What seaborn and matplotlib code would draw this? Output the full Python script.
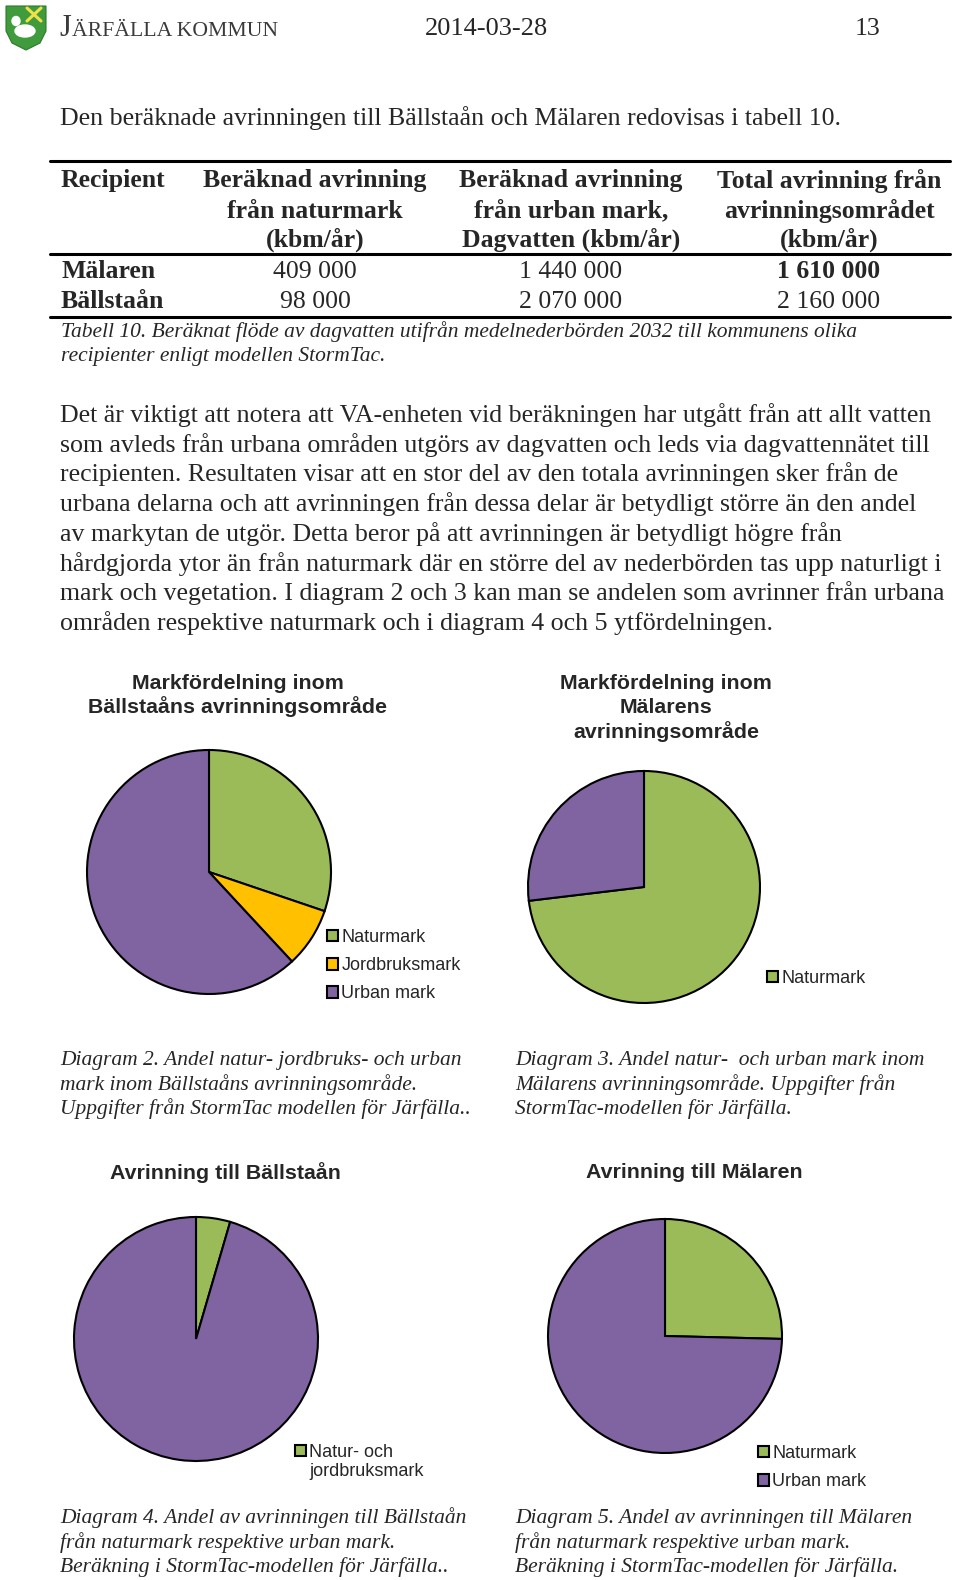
import numpy as np
import matplotlib
matplotlib.use("Agg")
import matplotlib.pyplot as plt
import seaborn as sns
from matplotlib.patches import Polygon, Ellipse, Rectangle
from matplotlib.lines import Line2D

sns.set_theme(style="white")
plt.rcParams['font.family'] = ['Liberation Serif', 'DejaVu Serif']

W, H = 960, 1580

# ---- data ----
land_balls_labels = ["Naturmark", "Jordbruksmark", "Urban mark"]
land_balls_share = [30.2, 7.9, 61.9]

land_malar_labels = ["Naturmark", "Urban mark"]
land_malar_share = [73.1, 26.9]

runoff_balls_labels = ["Natur- och", "jordbruksmark"]
runoff_balls = [98000, 2070000]

runoff_malar_labels = ["Naturmark", "Urban mark"]
runoff_malar_share = [25.4, 74.6]

table_recipients = ["Mälaren", "Bällstaån"]
table_natur = ["409 000", "98 000"]
table_urban = ["1 440 000", "2 070 000"]
table_total = ["1 610 000", "2 160 000"]

pal = sns.color_palette(["#9BBB59", "#FFC000", "#8064A2"])
green, yellow, purple = pal

SANS = ['Liberation Sans', 'DejaVu Sans']
SERIF = ['Liberation Serif', 'DejaVu Serif']

BODY = 18.6
CAP = 15.5

fig = plt.figure(figsize=(W / 100, H / 100), dpi=100)
fig.patch.set_facecolor("white")


def fx(x):
    return x / W


def fy(y):
    return 1 - y / H


def txt(x, y, s, size=BODY, ha="left", va="center", **kw):
    kw.setdefault("family", SERIF)
    fig.text(fx(x), fy(y), s, fontsize=size, ha=ha, va=va, **kw)


def hline(x0, x1, y, lw=2.2):
    fig.add_artist(Line2D([fx(x0), fx(x1)], [fy(y), fy(y)], color="black", lw=lw,
                          transform=fig.transFigure))


# ---- header ----
logo = fig.add_axes([fx(5), fy(51), 42 / W, 46 / H])
logo.set_xlim(0, 42)
logo.set_ylim(0, 46)
logo.axis("off")
logo.add_patch(Polygon([[1, 45], [41, 45], [41, 20], [35, 8], [21, 1], [7, 8], [1, 20]],
                       closed=True, facecolor="#3f9b3c", edgecolor="#2d7a2b", lw=0.8))
logo.add_patch(Ellipse((20, 20), 20, 12, facecolor="white"))
logo.add_patch(Ellipse((11, 30), 8, 9, facecolor="white"))
logo.plot([22, 36], [30, 43], color="#f2e24a", lw=2.2)
logo.plot([22, 36], [43, 30], color="#f2e24a", lw=2.2)

txt(59, 36, "J", size=22, va="baseline", color="#3a3a3a")
txt(72, 36, "ÄRFÄLLA KOMMUN", size=15.7, va="baseline", color="#3a3a3a")
txt(486, 29, "2014-03-28", size=19, ha="center")
txt(868, 29, "13", size=18.5, ha="center")

# ---- intro + table ----
txt(60, 118, "Den beräknade avrinningen till Bällstaån och Mälaren redovisas i tabell 10.")

hline(50, 950, 161)
hline(50, 950, 254)
hline(50, 950, 317)

col_x = [315, 571, 829]
headers = [["Beräknad avrinning", "från naturmark", "(kbm/år)"],
           ["Beräknad avrinning", "från urban mark,", "Dagvatten (kbm/år)"],
           ["Total avrinning från", "avrinningsområdet", "(kbm/år)"]]
head_y = [181, 211, 240]
txt(61, head_y[0], "Recipient", size=18.5, weight="bold")
for cx, lines in zip(col_x, headers):
    for yy, line in zip(head_y, lines):
        txt(cx, yy, line, size=18.5, ha="center", weight="bold")

row_y = [272, 302]
for i, rec in enumerate(table_recipients):
    txt(61, row_y[i], rec, size=18.5, weight="bold")
    txt(col_x[0], row_y[i], table_natur[i], size=18.5, ha="center")
    txt(col_x[1], row_y[i], table_urban[i], size=18.5, ha="center")
    txt(col_x[2], row_y[i], table_total[i], size=18.5, ha="center",
        weight="bold" if i == 0 else "normal")

txt(61, 332, "Tabell 10. Beräknat flöde av dagvatten utifrån medelnederbörden 2032 till kommunens olika",
    size=CAP, style="italic")
txt(61, 357, "recipienter enligt modellen StormTac.", size=CAP, style="italic")

# ---- body text ----
body = [
    "Det är viktigt att notera att VA-enheten vid beräkningen har utgått från att allt vatten",
    "som avleds från urbana områden utgörs av dagvatten och leds via dagvattennätet till",
    "recipienten. Resultaten visar att en stor del av den totala avrinningen sker från de",
    "urbana delarna och att avrinningen från dessa delar är betydligt större än den andel",
    "av markytan de utgör. Detta beror på att avrinningen är betydligt högre från",
    "hårdgjorda ytor än från naturmark där en större del av nederbörden tas upp naturligt i",
    "mark och vegetation. I diagram 2 och 3 kan man se andelen som avrinner från urbana",
    "områden respektive naturmark och i diagram 4 och 5 ytfördelningen.",
]
body_y = [415, 445, 474, 504, 534, 564, 593, 623]
for yy, line in zip(body_y, body):
    txt(60, yy, line)


# ---- pies ----
def pie_panel(cx, cy, r, values, colors, leg_labels, leg_x, leg_y, spacing=0.62, n_handles=None):
    side = 2.5 * r
    ax = fig.add_axes([fx(cx - side / 2), fy(cy + side / 2), side / W, side / H])
    wedges, _ = ax.pie(values, colors=colors, startangle=90, counterclock=False,
                       wedgeprops=dict(edgecolor="black", linewidth=1.5))
    ax.set_xlim(-1.25, 1.25)
    ax.set_ylim(-1.25, 1.25)
    ax.set_aspect("equal")
    n = len(leg_labels) if n_handles is None else n_handles
    handles = list(wedges[:n])
    # a wrapped label: continuation line gets an invisible handle
    while len(handles) < len(leg_labels):
        handles.append(Rectangle((0, 0), 1, 1, visible=False))
    ax.legend(handles, leg_labels, loc="upper left",
              bbox_to_anchor=(fx(leg_x), fy(leg_y)), bbox_transform=fig.transFigure,
              frameon=False, prop=dict(family=SANS, size=13),
              handlelength=0.6, handleheight=0.6, handletextpad=0.2,
              labelspacing=spacing, borderpad=0, borderaxespad=0)
    return ax


def title(x, ys, lines):
    for yy, line in zip(ys, lines):
        fig.text(fx(x), fy(yy), line, ha="center", va="center", fontsize=15.4,
                 weight="bold", family=SANS)


title(238, [683, 707], ["Markfördelning inom", "Bällstaåns avrinningsområde"])
pie_panel(209, 872, 122, land_balls_share, [green, yellow, purple],
          land_balls_labels, 327, 929)

title(666, [683, 708, 732], ["Markfördelning inom", "Mälarens", "avrinningsområde"])
pie_panel(644, 887, 116, land_malar_share, [green, purple],
          land_malar_labels[:1], 767, 970)

title(225, [1173], ["Avrinning till Bällstaån"])
pie_panel(196, 1339, 122, runoff_balls, [green, purple],
          runoff_balls_labels, 295, 1444, spacing=0.12, n_handles=1)

title(694, [1172], ["Avrinning till Mälaren"])
pie_panel(665, 1336, 117, runoff_malar_share, [green, purple],
          runoff_malar_labels, 758, 1445)

# ---- diagram captions ----
caps = [
    (60, [1060, 1085, 1109], ["Diagram 2. Andel natur- jordbruks- och urban",
                              "mark inom Bällstaåns avrinningsområde.",
                              "Uppgifter från StormTac modellen för Järfälla.."]),
    (515, [1060, 1085, 1109], ["Diagram 3. Andel natur-  och urban mark inom",
                               "Mälarens avrinningsområde. Uppgifter från",
                               "StormTac-modellen för Järfälla."]),
    (60, [1518, 1543, 1567], ["Diagram 4. Andel av avrinningen till Bällstaån",
                              "från naturmark respektive urban mark.",
                              "Beräkning i StormTac-modellen för Järfälla.."]),
    (515, [1518, 1543, 1567], ["Diagram 5. Andel av avrinningen till Mälaren",
                               "från naturmark respektive urban mark.",
                               "Beräkning i StormTac-modellen för Järfälla."]),
]
for x0, ys, lines in caps:
    for yy, line in zip(ys, lines):
        txt(x0, yy, line, size=CAP, style="italic")

fig.savefig("out.png", dpi=100, facecolor="white")
